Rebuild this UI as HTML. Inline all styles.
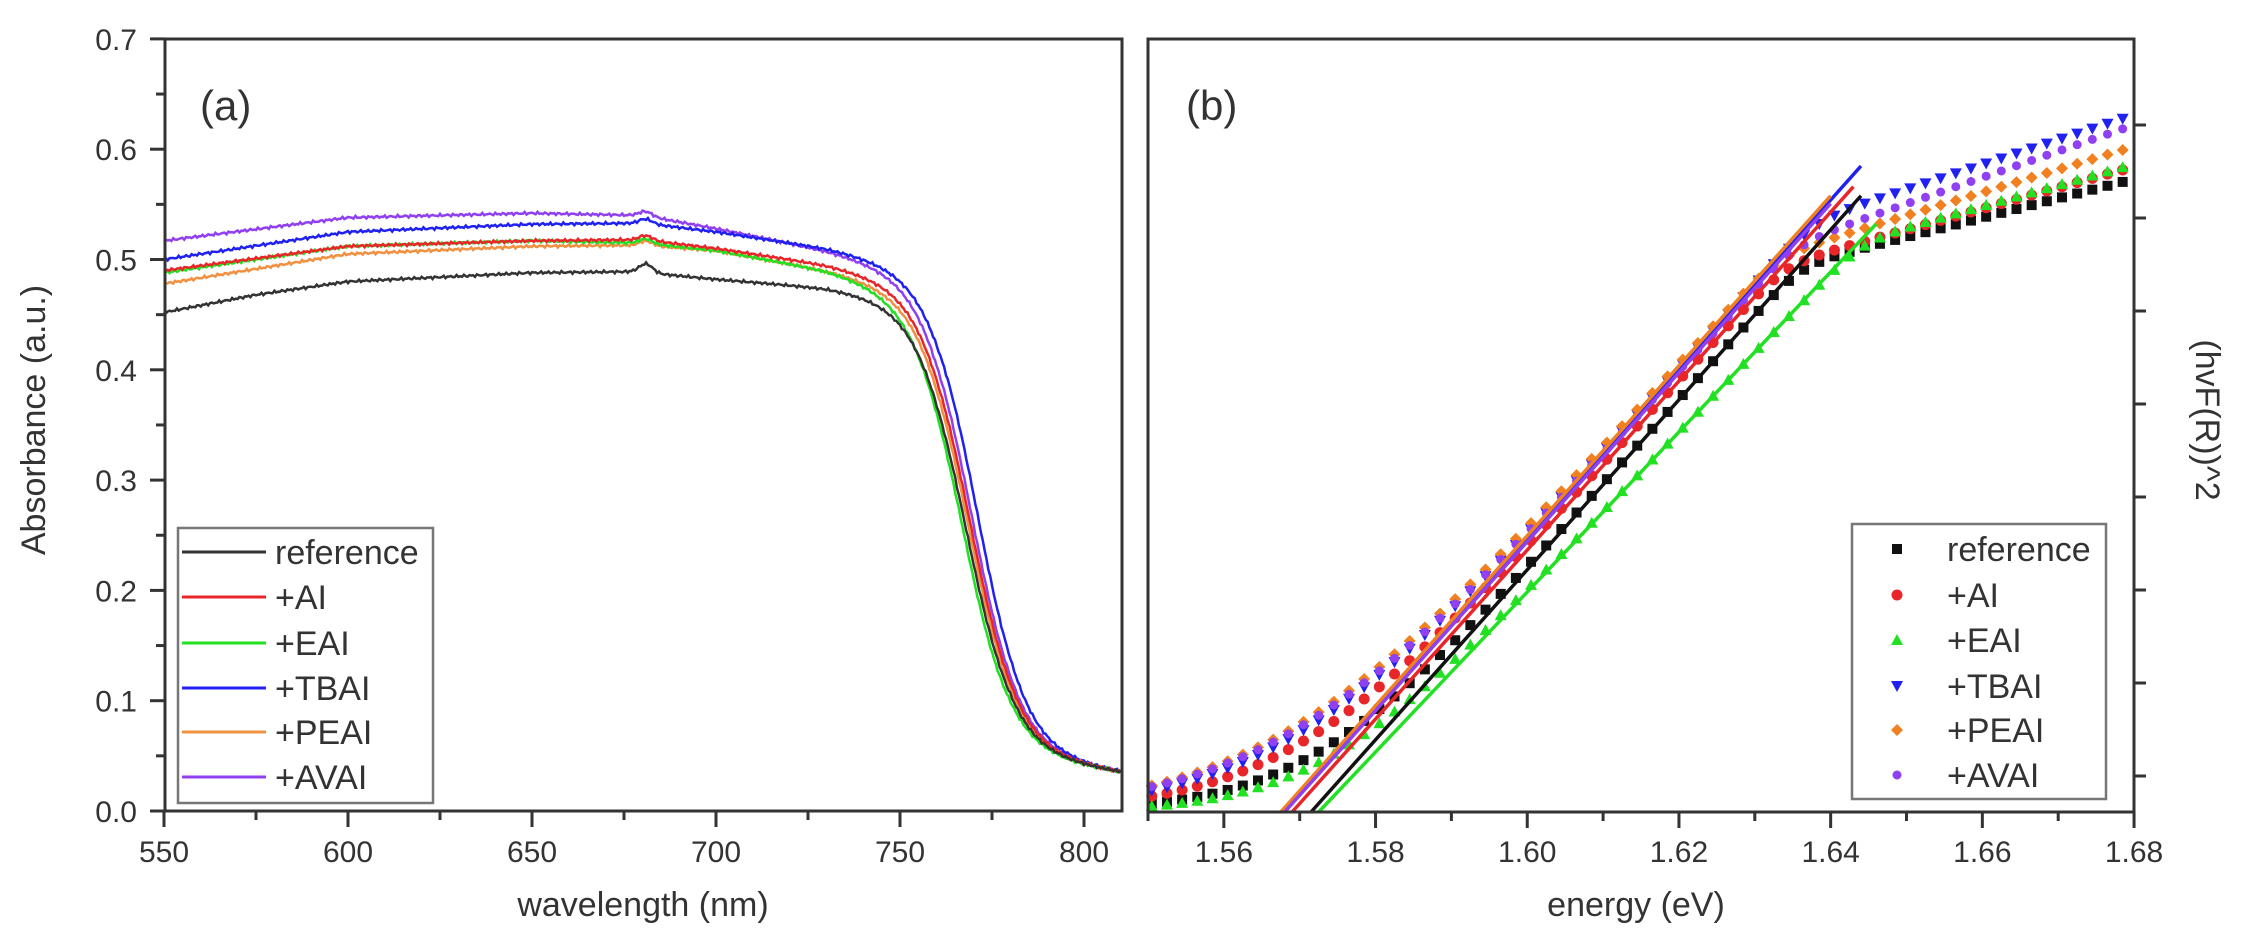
<!DOCTYPE html>
<html><head><meta charset="utf-8"><style>
html,body{margin:0;padding:0;background:#fff;width:2243px;height:949px;overflow:hidden}
svg{display:block}
text{font-family:"Liberation Sans",Arial,sans-serif;fill:#333}
</style></head><body>
<svg id="s" width="2243" height="949" xmlns="http://www.w3.org/2000/svg">
<rect width="2243" height="949" fill="#fff"/>
<g id="left"></g><g id="right"></g>
<rect x="165" y="39" width="957" height="772" fill="none" stroke="#333" stroke-width="3"/>
<rect x="1148" y="39" width="986" height="773" fill="none" stroke="#333" stroke-width="3"/>
<g id="ticks" stroke="#333" stroke-width="3"></g>
<g font-size="30" text-anchor="end" id="ylab"></g>
<g font-size="30" text-anchor="middle" id="xlab"></g>
<text x="200" y="120" font-size="42">(a)</text>
<text x="1186" y="120" font-size="42">(b)</text>
<text x="643" y="916" font-size="34" text-anchor="middle">wavelength (nm)</text>
<text x="1636" y="916" font-size="34" text-anchor="middle">energy (eV)</text>
<text transform="translate(45,420) rotate(-90)" font-size="34" text-anchor="middle">Absorbance (a.u.)</text>
<text transform="translate(2196,420) rotate(90)" font-size="34" text-anchor="middle">(hvF(R))^2</text>
<rect x="178" y="528" width="255" height="275" fill="#fff" stroke="#777" stroke-width="2.5"/>
<g stroke-width="3">
<line x1="182" y1="552" x2="266" y2="552" stroke="#333"/>
<line x1="182" y1="597" x2="266" y2="597" stroke="#e8262a"/>
<line x1="182" y1="643" x2="266" y2="643" stroke="#22e022"/>
<line x1="182" y1="688" x2="266" y2="688" stroke="#2020f0"/>
<line x1="182" y1="732" x2="266" y2="732" stroke="#f09040"/>
<line x1="182" y1="777" x2="266" y2="777" stroke="#9040f0"/>
</g>
<g font-size="34">
<text x="275" y="564">reference</text><text x="275" y="609">+AI</text><text x="275" y="655">+EAI</text>
<text x="275" y="700">+TBAI</text><text x="275" y="744">+PEAI</text><text x="275" y="789">+AVAI</text>
</g>
<rect x="1852" y="524" width="254" height="275" fill="#fff" stroke="#777" stroke-width="2.5"/>
<g id="legb"></g>
<g font-size="34">
<text x="1947" y="561">reference</text><text x="1947" y="607">+AI</text><text x="1947" y="652">+EAI</text>
<text x="1947" y="698">+TBAI</text><text x="1947" y="742">+PEAI</text><text x="1947" y="787">+AVAI</text>
</g>
</svg>
<script>
var NS="http://www.w3.org/2000/svg";
function el(p,t,a){var e=document.createElementNS(NS,t);for(var k in a)e.setAttribute(k,a[k]);p.appendChild(e);return e;}
var tk=document.getElementById('ticks'),yl=document.getElementById('ylab'),xl=document.getElementById('xlab');
for(var i=0;i<=14;i++){var y=811-i*0.05*1103;var maj=i%2==0;el(tk,'line',{x1:maj?150:156,y1:y,x2:165,y2:y});
 if(maj){var t=el(yl,'text',{x:137,y:y+11});t.textContent=(i*0.05).toFixed(1);}}
for(var l=550;l<=810;l+=25){var x=164+(l-550)*3.68;var maj=l%50==0;el(tk,'line',{x1:x,y1:811,x2:x,y2:maj?827:820});
 if(maj){var t=el(xl,'text',{x:x,y:862});t.textContent=l;}}
function ex(E){return 1148+(E-1.55)*7585;}
for(var k=0;k<=13;k++){var E=1.55+k*0.01;var x=ex(E);var maj=k%2==1;el(tk,'line',{x1:x,y1:812,x2:x,y2:maj?828:821});
 if(maj){var t=el(xl,'text',{x:x,y:862});t.textContent=E.toFixed(2);}}
for(var k=0;k<8;k++){var y=776-k*93;el(tk,'line',{x1:2134,y1:y,x2:2146,y2:y});}
function interp(pts,l){for(var i=0;i<pts.length-1;i++){if(l<=pts[i+1][0]){var f=(l-pts[i][0])/(pts[i+1][0]-pts[i][0]);return pts[i][1]+f*(pts[i+1][1]-pts[i][1]);}}return pts[pts.length-1][1];}
var LS=[
 ['#9040f0',[[550,.517],[600,.538],[650,.542],[680,.540],[700,.528],[730,.508],[760,.485]],769.5],
 ['#2020f0',[[550,.50],[600,.525],[650,.532],[680,.533],[700,.525],[730,.51],[760,.49]],771],
 ['#f09040',[[550,.478],[600,.505],[650,.512],[680,.513],[700,.508],[730,.49],[760,.47]],768.5],
 ['#22e022',[[550,.488],[600,.512],[650,.517],[680,.515],[700,.508],[730,.49],[760,.465]],767],
 ['#e8262a',[[550,.49],[600,.512],[650,.517],[680,.518],[700,.51],[730,.495],[760,.475]],769],
 ['#333',[[550,.452],[575,.468],[600,.480],[650,.488],[678,.489],[700,.482],[730,.474],[760,.46]],768]
];
var lg=document.getElementById('left');
LS.forEach(function(s,si){var d='';for(var l=550;l<=810;l+=0.5){var P=interp(s[1],l);
 if(si==5){P+=0.008*Math.exp(-Math.pow((l-681)/2.5,2));}
 else P+=0.004*Math.exp(-Math.pow((l-681)/2.5,2));
 var sg=1/(1+Math.exp((l-s[2])/6.5));var tail=0.05-0.015*(l-780)/30;
 if(l<780)tail=0.05;
 var A=P*sg+tail*(1-sg)+0.0007*(Math.sin(l*7.1+si)+Math.sin(l*3.3+2*si));
 var x=164+(l-550)*3.68,y=811-A*1103;d+=(d?'L':'M')+x.toFixed(1)+' '+y.toFixed(1);}
 el(lg,'path',{d:d,fill:'none',stroke:s[0],'stroke-width':2.5});});
var rg=document.getElementById('right');
var RS=[
 ['#111','sq',1.5715,8500,0.0095,1.65,575,1933,1.644],
 ['#e8262a','ci',1.569,8450,0.011,1.648,578,2100,1.643],
 ['#22e022','up',1.5725,8000,0.009,1.65,585,2100,1.646],
 ['#2020f0','dn',1.568,8500,0.012,1.645,610,2486,1.644],
 ['#f08020','di',1.5675,8500,0.013,1.645,585,2300,1.640],
 ['#9040f0','st',1.568,8450,0.013,1.645,595,2630,1.640]
];
function G(s,E){var z=(E-s[2])/s[4];var g=s[3]*s[4]*Math.log(1+Math.exp(z));var gs=s[6]+s[7]*(E-s[5]);var k=12;return -k*Math.log(Math.exp(-g/k)+Math.exp(-gs/k));}
function mark(p,sh,x,y,c,r){r=r||5;
 if(sh=='sq')el(p,'rect',{x:x-r,y:y-r,width:2*r,height:2*r,fill:c});
 else if(sh=='ci')el(p,'circle',{cx:x,cy:y,r:r+0.5,fill:c});
 else if(sh=='up')el(p,'polygon',{points:(x)+','+(y-r-1)+' '+(x-r-1)+','+(y+r)+' '+(x+r+1)+','+(y+r),fill:c});
 else if(sh=='dn')el(p,'polygon',{points:(x)+','+(y+r+1)+' '+(x-r-1)+','+(y-r)+' '+(x+r+1)+','+(y-r),fill:c});
 else if(sh=='di')el(p,'polygon',{points:x+','+(y-r-1)+' '+(x+r+1)+','+y+' '+x+','+(y+r+1)+' '+(x-r-1)+','+y,fill:c});
 else el(p,'circle',{cx:x,cy:y,r:r-0.5,fill:c});}
RS.forEach(function(s){for(var E=1.5505;E<=1.6801;E+=0.002){var y=812-G(s,E);if(y<812)mark(rg,s[1],ex(E),y,s[0]);}});
RS.forEach(function(s){var E1=s[2],E2=s[8];el(rg,'line',{x1:ex(E1),y1:812,x2:ex(E2),y2:812-s[3]*(E2-s[2]),stroke:s[0],'stroke-width':3.5});});
var lb=document.getElementById('legb');var ly=[549,595,640,686,730,775];
RS.forEach(function(s,i){mark(lb,s[1],1897,ly[i],s[0]);});
</script>
</body></html>
